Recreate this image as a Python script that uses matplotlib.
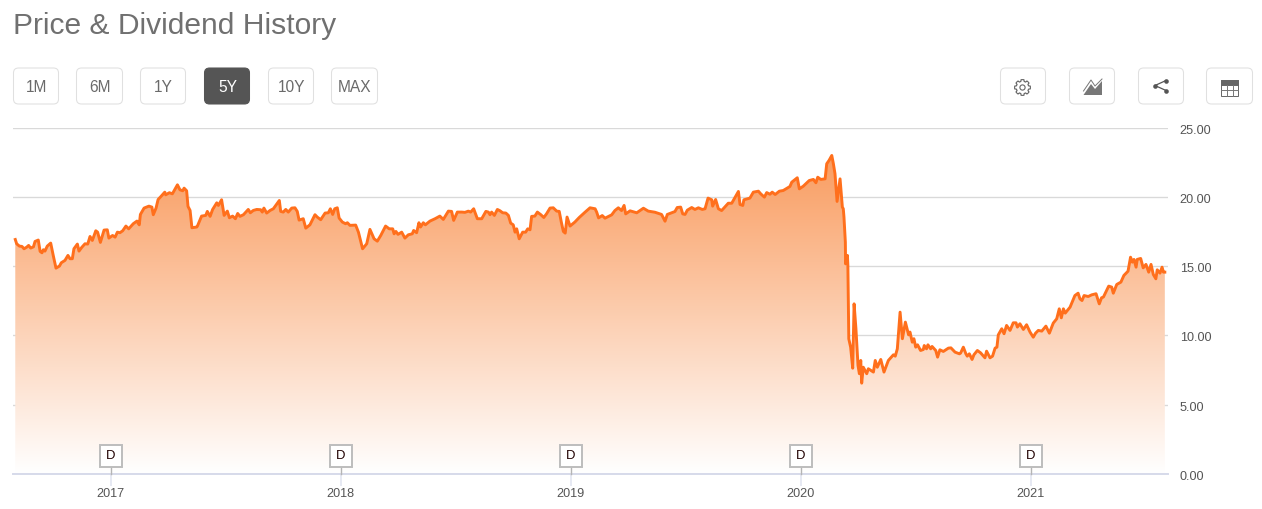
import numpy as np
import matplotlib
matplotlib.use("Agg")
import matplotlib.pyplot as plt
from matplotlib.patches import FancyBboxPatch, Polygon, Circle, Rectangle
from matplotlib.path import Path
from matplotlib.transforms import blended_transform_factory

plt.rcParams['font.family'] = ['Liberation Sans', 'DejaVu Sans']

title = "Price & Dividend History"
range_buttons = ["1M", "6M", "1Y", "5Y", "10Y", "MAX"]
active_button = "5Y"
y_ticks = [0, 5, 10, 15, 20, 25]
x_ticks = [2017, 2018, 2019, 2020, 2021]
dividend_dates = [2017.0, 2018.0, 2019.0, 2020.0, 2021.0]

dates_2016_17 = [2016.586,2016.592,2016.604,2016.615,2016.624,2016.636,2016.644,2016.653,2016.665,2016.672,2016.686,2016.694,2016.702,2016.708,2016.715,2016.725,2016.740,2016.751,2016.763,2016.778,2016.786,2016.802,2016.815,2016.824,2016.834,2016.841,2016.856,2016.863,2016.875,2016.889,2016.901,2016.911,2016.921,2016.936,2016.944,2016.956,2016.972,2016.986,2016.993,2017.009,2017.020,2017.030,2017.041,2017.053,2017.067,2017.079,2017.099,2017.115,2017.125,2017.130,2017.146,2017.167,2017.180,2017.186,2017.198,2017.207,2017.221,2017.236,2017.240,2017.256,2017.269,2017.291,2017.302,2017.314,2017.320,2017.331,2017.337,2017.346,2017.354,2017.375,
2017.378,2017.396,2017.414,2017.421,2017.433,2017.444,2017.462,2017.469,2017.483,2017.494,2017.508,2017.517,2017.531,2017.543,2017.553,2017.563,2017.578,2017.599,2017.608,2017.621,2017.636,2017.653,2017.660,2017.667,2017.679,2017.694,2017.708,2017.734,2017.740,2017.751,2017.762,2017.773,2017.788,2017.802,2017.812,2017.820,2017.838,2017.849,2017.867,2017.889,2017.899,2017.914,2017.933,2017.947,2017.956,2017.966,2017.975,2017.986,2017.994]
prices_2016_17 = [16.93,16.62,16.45,16.43,16.26,16.38,16.50,16.31,16.40,16.79,16.89,16.07,15.97,16.19,16.09,16.45,16.67,15.78,14.86,15.01,15.25,15.42,15.78,15.54,15.54,16.26,16.60,16.09,16.36,16.62,16.60,17.15,16.86,17.56,17.46,16.72,17.61,17.63,17.03,17.22,17.10,17.46,17.42,17.56,17.90,17.70,18.07,18.26,17.99,18.74,19.20,19.34,19.27,18.72,19.20,19.82,20.07,20.35,20.16,20.31,20.23,20.88,20.52,20.45,20.64,20.45,19.32,19.03,17.78,17.83,
17.90,18.62,18.67,18.96,18.60,19.10,19.58,19.39,19.80,18.67,18.98,18.50,18.62,18.43,18.81,18.60,18.72,19.10,18.86,19.03,19.10,19.08,18.91,19.20,18.84,19.03,19.15,19.75,18.96,18.91,19.10,18.91,19.20,19.22,18.96,18.33,18.43,17.75,17.99,18.72,18.55,18.36,18.84,18.86,19.15,18.74,19.15,19.22,18.48]

dates_2018 = [2018.008,2018.022,2018.030,2018.041,2018.066,2018.078,2018.096,2018.114,2018.128,2018.146,2018.160,2018.175,2018.196,2018.212,2018.227,2018.233,2018.241,2018.250,2018.266,2018.280,2018.295,2018.312,2018.318,2018.331,2018.341,2018.348,2018.360,2018.369,2018.389,2018.411,2018.432,2018.447,2018.469,2018.483,2018.492,2018.508,2018.527,2018.541,2018.556,2018.566,2018.579,2018.595,2018.614,2018.632,2018.643,2018.650,2018.657,2018.669,2018.682,2018.693,2018.705,2018.719,2018.730,2018.740,2018.751,2018.759,2018.766,2018.777,2018.792,2018.805,2018.814,2018.824,2018.831,2018.845,2018.856,2018.871,2018.884,2018.896,2018.911,2018.925,2018.940,2018.951,2018.960,2018.969,2018.977,2018.985,2018.998]
prices_2018 = [18.19,18.07,18.14,17.95,17.97,17.46,16.26,16.62,17.66,16.98,16.81,17.22,17.90,17.70,17.70,17.34,17.51,17.30,17.46,17.03,17.27,17.34,17.58,17.42,18.14,17.83,18.14,17.99,18.26,18.43,18.62,18.38,18.98,18.96,18.31,18.91,18.91,18.89,18.98,18.91,19.15,18.43,18.43,18.96,18.91,18.72,18.91,18.67,19.10,19.01,18.86,18.84,18.67,18.11,17.99,17.46,17.70,16.98,17.46,17.46,17.70,17.63,18.60,18.62,18.91,18.72,18.52,18.79,19.20,19.22,18.98,18.96,18.19,17.51,17.39,18.55,17.90]

dates_2019 = [2019.019,2019.038,2019.063,2019.085,2019.107,2019.114,2019.122,2019.138,2019.150,2019.179,2019.193,2019.208,2019.222,2019.233,2019.240,2019.259,2019.288,2019.317,2019.338,2019.367,2019.396,2019.411,2019.421,2019.454,2019.464,2019.479,2019.488,2019.498,2019.508,2019.527,2019.541,2019.556,2019.573,2019.585,2019.598,2019.614,2019.618,2019.631,2019.643,2019.657,2019.686,2019.701,2019.730,2019.737,2019.749,2019.754,2019.780,2019.795,2019.817,2019.827,2019.843,2019.853,2019.867,2019.877,2019.890,2019.908,2019.925,2019.954,2019.962,2019.986,2019.995]
prices_2019 = [18.19,18.52,18.90,19.22,19.15,18.90,18.49,18.66,18.47,18.71,19.02,19.22,19.02,19.39,18.78,19.00,18.86,19.19,18.98,18.90,18.74,18.25,18.74,18.95,19.24,19.27,18.78,18.74,19.05,19.24,19.10,19.22,19.10,19.15,19.92,19.80,19.34,19.82,19.15,19.02,19.55,19.55,20.40,19.46,19.39,19.80,19.92,20.35,20.42,20.23,19.99,20.32,20.20,20.35,20.18,20.42,20.47,20.76,21.07,21.39,20.59]

dates_2020 = [2020.012,2020.038,2020.056,2020.067,2020.075,2020.088,2020.107,2020.114,2020.124,2020.136,2020.143,2020.150,2020.159,2020.172,2020.182,2020.186,2020.189,2020.195,2020.196,2020.204,2020.206,2020.210,2020.218,2020.227,2020.233,2020.241,2020.250,2020.256,2020.262,2020.266,2020.273,2020.288,2020.295,2020.317,2020.325,2020.334,2020.349,2020.363,2020.382,2020.404,2020.412,2020.421,2020.433,2020.443,2020.456,2020.470,2020.476,2020.486,2020.493,2020.501,2020.509,2020.522,2020.534,2020.538,2020.548,2020.554,2020.566,2020.572,2020.588,2020.596,2020.606,2020.621,2020.643,2020.654,2020.672,2020.691,2020.696,2020.708,2020.719,2020.725,2020.734,2020.746,2020.754,2020.769,2020.783,2020.802,2020.809,2020.824,2020.835,2020.846,2020.854,2020.860,2020.875,2020.885,2020.896,2020.911,2020.925,2020.937,2020.943,2020.954,2020.969,2020.983,2020.998]
prices_2020 = [20.78,21.19,21.27,21.03,21.43,21.27,21.31,22.40,22.64,23.00,22.40,21.68,19.68,21.31,19.27,19.15,18.55,16.74,15.17,15.78,15.05,9.75,9.15,7.63,12.28,10.48,7.83,7.23,8.19,6.55,7.70,7.23,7.59,7.35,8.19,7.70,8.26,7.35,8.19,8.60,8.50,9.03,11.68,9.76,10.96,10.04,10.24,9.51,9.76,9.15,9.32,8.91,8.98,9.27,9.03,9.32,9.03,9.20,8.91,8.43,8.96,8.84,9.08,9.10,8.79,8.67,8.72,9.15,8.67,8.50,8.67,8.26,8.60,8.91,8.74,8.38,8.86,8.38,8.50,9.08,9.15,10.04,10.48,10.12,10.72,10.36,10.91,10.91,10.60,10.84,10.43,10.77,10.24]

dates_2021 = [2021.012,2021.022,2021.034,2021.049,2021.067,2021.082,2021.099,2021.114,2021.125,2021.134,2021.143,2021.151,2021.172,2021.193,2021.207,2021.215,2021.224,2021.233,2021.251,2021.266,2021.285,2021.299,2021.309,2021.317,2021.340,2021.353,2021.360,2021.375,2021.393,2021.406,2021.424,2021.435,2021.443,2021.450,2021.459,2021.464,2021.479,2021.490,2021.502,2021.514,2021.524,2021.534,2021.545,2021.551,2021.563,2021.572,2021.578,2021.584]
prices_2021 = [9.87,10.16,10.36,10.31,10.67,10.16,10.89,11.20,11.92,11.27,11.92,11.61,12.04,12.88,13.05,12.64,12.52,12.88,12.81,12.93,13.01,12.28,12.72,12.77,13.56,13.49,13.05,13.68,13.85,14.33,14.64,15.65,15.29,15.49,14.93,15.49,15.56,14.88,15.13,14.57,15.13,14.40,14.09,14.74,14.50,14.93,14.57,14.57]

dates = np.array(dates_2016_17 + dates_2018 + dates_2019 + dates_2020 + dates_2021)
prices = np.array(prices_2016_17 + prices_2018 + prices_2019 + prices_2020 + prices_2021)

W, H = 1262, 510
fig = plt.figure(figsize=(W / 100, H / 100), dpi=100, facecolor='white')

# Page chrome in pixel coordinates
ui = fig.add_axes([0, 0, 1, 1], zorder=0)
ui.set_xlim(0, W)
ui.set_ylim(H, 0)
ui.axis('off')

ui.text(13, 26.5, title, fontsize=21.6, color='#707070', va='center', ha='left')

BTN_TOP = 69

def button(x0, x1, active=False):
    ui.add_patch(FancyBboxPatch((x0 + 4, BTN_TOP + 4), x1 - x0 - 8, 36 - 8,
                                boxstyle="round,pad=4,rounding_size=5",
                                fc='#555555' if active else 'white',
                                ec='#555555' if active else '#e0e0e0', lw=0.75))

button_spans = [(13.5, 58.5), (76.5, 122.5), (140.5, 185.5), (204.5, 249.5), (268.5, 313.5), (331.5, 377.5)]
for label, (x0, x1) in zip(range_buttons, button_spans):
    on = label == active_button
    button(x0, x1, on)
    ui.text((x0 + x1) / 2 + 0.5, 87.5, label, fontsize=11.2,
            color='white' if on else '#6a6a6a', ha='center', va='center')

for x0, x1 in [(1000.5, 1045.5), (1069.5, 1114.5), (1138.5, 1183.5), (1206.5, 1252.5)]:
    button(x0, x1)

# gear icon
cx, cy = 1022.5, 88.5
ang = np.linspace(0, 2 * np.pi, 97)
rad = 6.2 + 1.7 * (np.cos(8 * ang) > -0.1)
ui.add_patch(Polygon(np.c_[cx + rad * np.cos(ang), cy + rad * np.sin(ang)], closed=True,
                     fc='white', ec='#666666', lw=0.8))
ui.add_patch(Circle((cx, cy), 2.6, fc='white', ec='#666666', lw=0.8))
# area-chart icon
ui.add_patch(Polygon([(1083.5, 96), (1091, 85), (1095, 90), (1102, 82), (1102, 96)],
                     closed=True, fc='#777777', ec='none'))
ui.plot([1083.5, 1091, 1095, 1102], [92, 81, 87, 80], color='#777777', lw=0.7)
# share icon
ui.plot([1166, 1155, 1166], [81.5, 86.5, 91.5], color='#555555', lw=0.9)
ui.scatter([1155, 1166, 1166], [86.5, 81.5, 91.5], s=11, color='#555555', linewidths=0, zorder=3)
# table icon
ui.add_patch(Rectangle((1221, 80.5), 17, 16, fc='white', ec='#666666', lw=0.7))
ui.add_patch(Rectangle((1221, 80.5), 17, 5, fc='#666666', ec='#666666', lw=0.7))
for xv in (1226.5, 1232.5):
    ui.plot([xv, xv], [85.5, 96.5], color='#777777', lw=0.7)
ui.plot([1221, 1238], [91, 91], color='#777777', lw=0.7)

# Chart
LEFT, RIGHT, TOP, BOTTOM = 13, 1168, 128.8, 474.8
ax = fig.add_axes([LEFT / W, (H - BOTTOM) / H, (RIGHT - LEFT) / W, (BOTTOM - TOP) / H], zorder=1)
ax.patch.set_alpha(0)
xlim = (2017 + (LEFT - 110.5) / 230, 2017 + (RIGHT - 110.5) / 230)
for s in ax.spines.values():
    s.set_visible(False)
ax.spines['bottom'].set_visible(True)
ax.spines['bottom'].set_color('#d6daea')
ax.spines['bottom'].set_linewidth(1.4)

ax.set_yticks(y_ticks)
ax.yaxis.tick_right()
ax.tick_params(axis='y', length=0, labelright=False)
for v in y_ticks:
    ax.annotate(f"{v:.2f}", xy=(1, v), xycoords=('axes fraction', 'data'), xytext=(8.5, -1.5),
                textcoords='offset points', fontsize=9.1, color='#555555', ha='left', va='center',
                annotation_clip=False)
ax.grid(axis='y', color='#d9d9d9', lw=0.95, zorder=0)
ax.set_axisbelow(True)

ax.set_xticks(x_ticks)
ax.set_xticklabels([str(v) for v in x_ticks], fontsize=9.1, color='#555555')
ax.tick_params(axis='x', length=8.6, width=1.1, color='#dfe3f0', pad=1.0)

# Opaque gradient area under the price line
top_rgb = np.array([249, 156, 96]) / 255
grad = np.linspace(0, 1, 256)[:, None, None]
img = 1 - grad * (1 - top_rgb[None, None, :])
im = ax.imshow(img, extent=[dates[0], dates[-1], 0, prices.max()], origin='lower',
               aspect='auto', zorder=2, interpolation='bilinear')
clip = Path(np.vstack([[dates[0], 0], np.c_[dates, prices], [dates[-1], 0], [dates[0], 0]]))
im.set_clip_path(clip, transform=ax.transData)
ax.set_xlim(*xlim)
ax.set_ylim(0, 25)

ax.plot(dates, prices, color='#ff6f1c', lw=2.1, zorder=3, solid_joinstyle='round')

# Dividend flags
flag_tr = blended_transform_factory(ax.transData, ax.transAxes)
flag_y = (BOTTOM - 456.5) / (BOTTOM - TOP)
stem_top = (BOTTOM - 467) / (BOTTOM - TOP)
for d in dividend_dates:
    ax.plot([d, d], [0, stem_top], transform=flag_tr, color='#b5b5b5', lw=1.0, zorder=4, clip_on=False)
    ax.plot([d], [flag_y], transform=flag_tr, marker='s', ms=15.2, mfc='white', mec='#bdbdbd',
            mew=1.4, zorder=5, clip_on=False)
    ax.text(d, flag_y, 'D', transform=flag_tr, fontsize=9.4, color='#200000',
            ha='center', va='center', zorder=6)

fig.savefig('out.png', dpi=100, facecolor='white')
